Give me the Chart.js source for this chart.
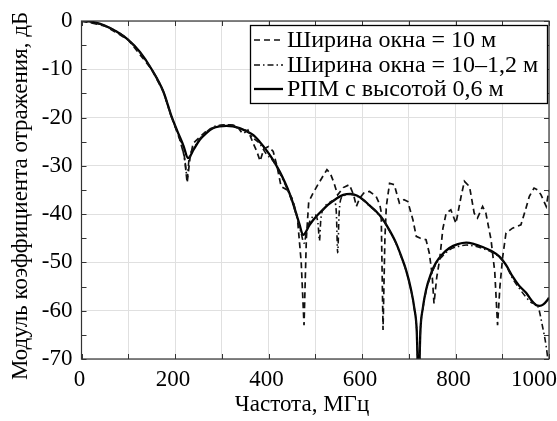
<!DOCTYPE html>
<html>
<head>
<meta charset="utf-8">
<script src="https://cdn.jsdelivr.net/npm/chart.js@4.4.1/dist/chart.umd.min.js"></script>
<style>
  html, body { margin: 0; padding: 0; background: #fff; }
</style>
</head>
<body>
<canvas id="chart" width="557" height="421"></canvas>
<script>
// Frequency, MHz / reflection magnitude, dB
const freqWin10 = [0, 50, 100, 150, 175, 195, 210, 220, 226, 232, 239, 250, 265, 281, 300, 320, 333, 345, 356, 368,
  375, 382, 390, 400, 410, 418, 427, 440, 452, 462, 470, 476, 481, 486, 495, 505, 516, 525, 532, 540,
  548, 560, 573, 582, 588, 595, 605, 616, 630, 638, 641, 645, 649, 652, 659, 669, 675, 680, 690, 698,
  709, 716, 725, 737, 744, 750, 754, 760, 766, 773, 780, 790, 801, 812, 819, 830, 840, 847, 858, 865,
  876, 884, 890, 895, 901, 908, 922, 940, 950, 958, 968, 976, 983, 994, 1000];
const dbWin10 = [0, -1, -3.9, -10, -14.6, -20.5, -24.5, -28, -33.5, -28.5, -25.3, -24.3, -23, -22.1, -21.6, -21.5, -21.8, -23.4, -22.6, -25.5,
  -27, -29, -26.5, -26, -27, -30, -34.3, -35, -37, -41, -50, -63, -45, -37.5, -35.7, -34, -32.2, -30.8, -31.5, -33.5,
  -36, -34.5, -33.9, -36, -38.4, -36.7, -35.5, -35.3, -36.3, -38, -39.5, -64, -45, -38.4, -33.6, -33.9, -36, -37.7, -37, -37.4,
  -41.2, -44.6, -45, -45.3, -48.1, -52.5, -58.5, -53, -49.5, -43, -39.8, -39.1, -41.9, -36.3, -33.2, -34.3, -39.8, -40.8, -38.4, -39.8,
  -45.3, -52, -63, -55, -48.8, -43.9, -42.9, -42.2, -39, -36.3, -34.6, -35, -36, -38.4, -35];

const freqWinVar = [0, 50, 100, 150, 175, 192, 205, 215, 222, 226, 230, 240, 253, 267, 281, 295, 310, 324, 338, 352,
  367, 381, 395, 410, 424, 445, 459, 470, 476, 482, 490, 500, 506, 509, 512, 520, 530, 540, 545, 548,
  551, 556, 575, 590, 605, 616, 630, 644, 658, 673, 685, 694, 705, 712, 717, 721, 725, 730, 737, 747,
  758, 772, 787, 805, 823, 840, 858, 876, 894, 908, 922, 936, 951, 962, 976, 986, 994, 1000];
const dbWinVar = [0, -1, -3.9, -10, -14.6, -19.8, -23, -26, -29.5, -32.5, -28.6, -26.4, -24.4, -23, -22, -21.6, -21.5, -21.6, -22.4, -22.6,
  -24.2, -25.4, -27.5, -29, -31.5, -36, -40, -44, -46, -43.2, -41.2, -40.2, -42, -45.5, -41, -38.6, -37.6, -37.2, -39.5, -48,
  -40, -36.6, -35.9, -36.3, -37.3, -38.3, -39.5, -41.1, -43.3, -46.1, -49.1, -51.6, -55.8, -59.6, -64, -76, -64, -59.7, -56, -52.8,
  -50.4, -48.7, -47.4, -46.7, -46.4, -46.6, -47.1, -47.8, -48.9, -50.6, -53.3, -55.3, -57.2, -58.3, -59.1, -63.2, -67.4, -72];

const freqRpm = [0, 20, 40, 60, 80, 100, 125, 150, 175, 192, 205, 218, 228, 240, 253, 267, 281, 295, 310, 324,
  338, 352, 367, 381, 395, 410, 424, 435, 445, 452, 459, 466, 474, 488, 502, 515, 527, 545, 560, 575,
  590, 605, 616, 630, 644, 658, 673, 685, 694, 705, 712, 717, 721, 725, 730, 737, 747, 758, 772, 787,
  805, 823, 840, 858, 876, 894, 908, 922, 936, 951, 962, 972, 980, 988, 995, 1000];
const dbRpm = [0, -0.15, -0.6, -1.4, -2.5, -3.9, -6.4, -10, -14.6, -19.6, -22.8, -25.8, -28.4, -26.6, -24.6, -23.2, -22.2, -21.8, -21.7, -21.8,
  -22.2, -22.8, -23.6, -25, -26.7, -28.8, -31.2, -33.4, -35.7, -37.6, -39.8, -42, -44.3, -42.2, -40.5, -39.2, -38.1, -36.8, -36, -35.8,
  -36.2, -37.2, -38.2, -39.4, -41, -43.2, -46, -49, -51.5, -55.7, -59.5, -64, -76, -64, -59.5, -55.7, -52.5, -50.1, -48.3, -47,
  -46.2, -45.9, -46.2, -46.8, -47.6, -48.8, -50.5, -52.9, -54.8, -56.3, -57.8, -58.8, -59, -58.7, -58, -57.3];

const seriesLabels = ["Ширина окна = 10 м", "Ширина окна = 10–1,2 м", "РПМ с высотой 0,6 м"];
const xTitle = "Частота, МГц";
const yTitle = "Модуль коэффициента отражения, дБ";

const SERIF = '"Liberation Serif", "Times New Roman", serif';

const toPoints = (xs, ys) => xs.map((x, i) => ({ x, y: ys[i] }));

// frame, inward ticks, axis titles, x tick labels and legend box
const framePlugin = {
  id: "frame",
  afterDatasetsDraw(chart) {
    const { ctx, chartArea: a, scales } = chart;
    const xs = scales.x, ys = scales.y;
    ctx.save();

    ctx.strokeStyle = "#333";
    ctx.lineWidth = 1;
    ctx.setLineDash([]);
    ctx.beginPath();
    for (let v = 0; v <= 1000; v += 100) {
      const px = Math.round(xs.getPixelForValue(v)) + 0.5;
      ctx.moveTo(px, a.bottom); ctx.lineTo(px, a.bottom - 5);
      ctx.moveTo(px, a.top); ctx.lineTo(px, a.top + 5);
    }
    for (let v = -70; v <= 0; v += 5) {
      const py = Math.round(ys.getPixelForValue(v)) + 0.5;
      ctx.moveTo(a.left, py); ctx.lineTo(a.left + 5, py);
      ctx.moveTo(a.right, py); ctx.lineTo(a.right - 5, py);
    }
    ctx.stroke();
    ctx.lineWidth = 1.2;
    ctx.strokeRect(a.left, a.top, a.right - a.left, a.bottom - a.top);

    // x tick labels
    ctx.fillStyle = "#000";
    ctx.font = "23px " + SERIF;
    ctx.textBaseline = "middle";
    ctx.textAlign = "center";
    for (let v = 0; v <= 1000; v += 200) {
      const txt = String(v);
      const w = ctx.measureText(txt).width;
      let px = xs.getPixelForValue(v) - 2;
      if (px + w / 2 > chart.width) px = chart.width - w / 2;
      ctx.fillText(txt, px, 380);
    }

    // axis titles
    ctx.fillText(xTitle, 302, 405);
    ctx.save();
    ctx.translate(21, 196);
    ctx.rotate(-Math.PI / 2);
    ctx.fillText(yTitle, 0, 0);
    ctx.restore();

    // legend
    const box = { x: 250.5, y: 25.5, w: 297, h: 78 };
    ctx.fillStyle = "#fff";
    ctx.fillRect(box.x, box.y, box.w, box.h);
    ctx.strokeStyle = "#000";
    ctx.lineWidth = 1.3;
    ctx.strokeRect(box.x, box.y, box.w, box.h);
    ctx.font = "24px " + SERIF;
    ctx.textAlign = "left";
    const rows = [40, 65, 89];
    chart.data.datasets.forEach((ds, i) => {
      ctx.strokeStyle = ds.borderColor;
      ctx.lineWidth = ds.borderWidth;
      ctx.setLineDash(ds.borderDash || []);
      ctx.beginPath();
      ctx.moveTo(254, rows[i]);
      ctx.lineTo(283, rows[i]);
      ctx.stroke();
      ctx.setLineDash([]);
      ctx.fillStyle = "#000";
      ctx.fillText(ds.label, 287, rows[i] + 1);
    });
    ctx.restore();
  },
};

new Chart(document.getElementById("chart").getContext("2d"), {
  type: "line",
  data: {
    datasets: [
      {
        label: seriesLabels[0],
        data: toPoints(freqWin10, dbWin10),
        borderColor: "#111",
        borderWidth: 1.7,
        borderDash: [6, 4],
        tension: 0,
      },
      {
        label: seriesLabels[1],
        data: toPoints(freqWinVar, dbWinVar),
        borderColor: "#111",
        borderWidth: 1.6,
        borderDash: [6, 3, 1.5, 3],
        cubicInterpolationMode: "monotone",
      },
      {
        label: seriesLabels[2],
        data: toPoints(freqRpm, dbRpm),
        borderColor: "#000",
        borderWidth: 2.3,
        cubicInterpolationMode: "monotone",
      },
    ],
  },
  options: {
    responsive: false,
    animation: false,
    clip: 0,
    layout: { padding: { top: 21, right: 8, left: 0, bottom: 0 } },
    elements: { point: { radius: 0 } },
    plugins: { legend: { display: false }, tooltip: { enabled: false } },
    scales: {
      x: {
        type: "linear",
        min: 0,
        max: 1000,
        ticks: { stepSize: 100, display: false },
        grid: { color: "#e0e0e0", drawTicks: false },
        border: { display: false },
        afterFit: (scale) => { scale.height = 62; scale.paddingLeft = 0; scale.paddingRight = 0; },
      },
      y: {
        min: -70,
        max: 0,
        ticks: {
          stepSize: 5,
          padding: 9,
          color: "#000",
          font: { family: SERIF, size: 23 },
          callback: (v) => (v % 10 === 0 ? String(v) : ""),
        },
        grid: { color: "#e0e0e0", drawTicks: false },
        border: { display: false },
        afterFit: (scale) => { scale.width = 81.5; scale.paddingTop = 0; scale.paddingBottom = 0; },
      },
    },
  },
  plugins: [framePlugin],
});
</script>
</body>
</html>
